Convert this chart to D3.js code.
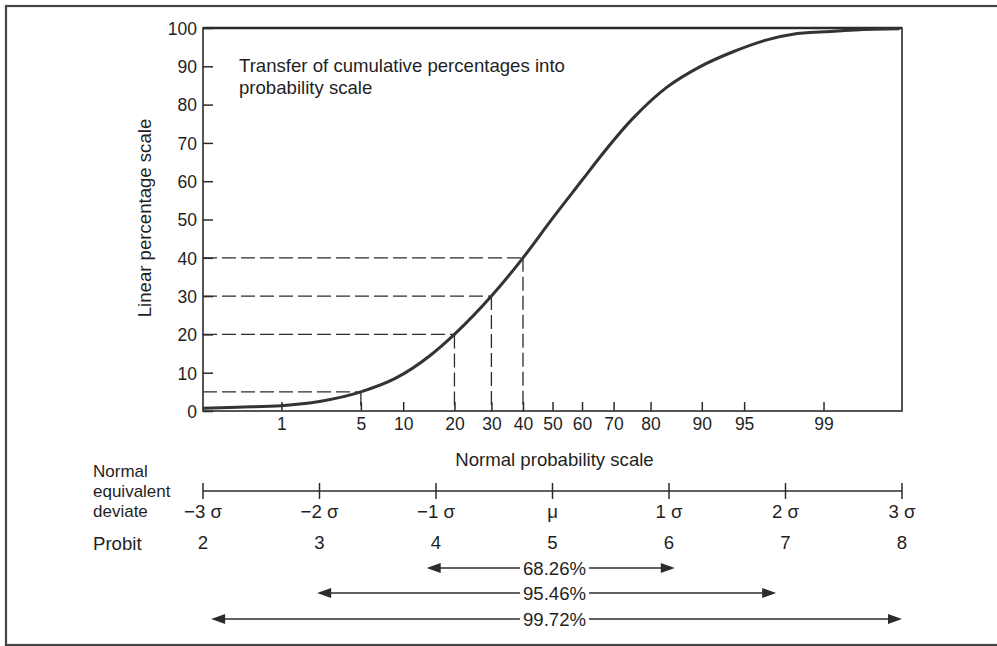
<!DOCTYPE html>
<html><head><meta charset="utf-8">
<script src="https://cdn.jsdelivr.net/npm/d3@7"></script>
<style>
body{margin:0;background:#fff}
text{font-family:"Liberation Sans",Arial,Helvetica,sans-serif;fill:#1f1f1f;font-size:18.6px}
</style>
</head><body>
<svg id="c" width="997" height="646"></svg>
<script>
// ---- data ----
const percentTicks = [0,10,20,30,40,50,60,70,80,90,100];
const probTicks = [1,5,10,20,30,40,50,60,70,80,90,95,99];
const deviateTicks = [-3,-2,-1,0,1,2,3];
const deviateLabels = ["\u22123 \u03c3","\u22122 \u03c3","\u22121 \u03c3","\u03bc","1 \u03c3","2 \u03c3","3 \u03c3"];
const probitLabels = ["2","3","4","5","6","7","8"];
// curve: normal equivalent deviate vs linear percentage
const curveDeviate = [-3.0,-2.7,-2.33,-2.0,-1.645,-1.35,-1.05,-0.842,-0.524,-0.253,0,0.26,0.40,0.69,0.98,1.26,1.55,1.84,2.09,2.33,2.6,2.98];
const curvePercent = [0.7,1.0,1.4,2.5,5.0,8.5,14.5,20,30,40,50.3,60.5,66.0,76.4,84.5,89.8,93.8,96.9,98.5,99.0,99.5,99.8];
const guidePercents = [5,20,30,40];
const rangeLabels = ["68.26%","95.46%","99.72%"];
const rangeFrom = [-1.08,-2.02,-2.93];
const rangeTo = [1.05,1.92,3.0];

// inverse standard normal CDF (Acklam) — the probability-scale transform
function probit(p){
  const a=[-3.969683028665376e+01,2.209460984245205e+02,-2.759285104469687e+02,1.383577518672690e+02,-3.066479806614716e+01,2.506628277459239e+00];
  const b=[-5.447609879822406e+01,1.615858368580409e+02,-1.556989798598866e+02,6.680131188771972e+01,-1.328068155288572e+01];
  const c=[-7.784894002430293e-03,-3.223964580411365e-01,-2.400758277161838e+00,-2.549732539343734e+00,4.374664141464968e+00,2.938163982698783e+00];
  const d=[7.784695709041462e-03,3.224671290700398e-01,2.445134137142996e+00,3.754408661907416e+00];
  const pl=0.02425;
  let q,r;
  if(p<pl){q=Math.sqrt(-2*Math.log(p));return (((((c[0]*q+c[1])*q+c[2])*q+c[3])*q+c[4])*q+c[5])/((((d[0]*q+d[1])*q+d[2])*q+d[3])*q+1);}
  if(p>1-pl){q=Math.sqrt(-2*Math.log(1-p));return -(((((c[0]*q+c[1])*q+c[2])*q+c[3])*q+c[4])*q+c[5])/((((d[0]*q+d[1])*q+d[2])*q+d[3])*q+1);}
  q=p-0.5;r=q*q;
  return (((((a[0]*r+a[1])*r+a[2])*r+a[3])*r+a[4])*r+a[5])*q/(((((b[0]*r+b[1])*r+b[2])*r+b[3])*r+b[4])*r+1);
}

const svg = d3.select("#c");
const ink = "#2b2b2b";
const L=203, R=902, T=28, B=411;
const x = d3.scaleLinear().domain([-3,3]).range([L,R]);
const y = d3.scaleLinear().domain([0,100]).range([B,T]);
const xp = p => x(probit(p/100));

// outer frame
svg.append("rect").attr("x",6).attr("y",6).attr("width",1000).attr("height",639)
  .attr("fill","none").attr("stroke","#444").attr("stroke-width",2.2);

// y axis
const ya = svg.append("g").attr("transform",`translate(${L},0)`)
  .call(d3.axisLeft(y).tickValues(percentTicks).tickSizeInner(-10).tickSizeOuter(0).tickPadding(6));
ya.select(".domain").remove();
ya.selectAll("line").attr("stroke",ink).attr("stroke-width",1.5);
ya.selectAll("text").style("font-size","17.5px").attr("fill","#1f1f1f").attr("dy","0.36em");

// x axis (normal probability scale)
const xa = svg.append("g").attr("transform",`translate(0,${B})`)
  .call(d3.axisBottom(x).tickValues(probTicks.map(p=>probit(p/100))).tickFormat((d,i)=>probTicks[i])
    .tickSizeInner(-9).tickSizeOuter(0).tickPadding(7));
xa.select(".domain").remove();
xa.selectAll("line").attr("stroke",ink).attr("stroke-width",1.5);
xa.selectAll("text").style("font-size","17.5px").attr("fill","#1f1f1f");

// plot box
svg.append("rect").attr("x",L).attr("y",T).attr("width",R-L).attr("height",B-T)
  .attr("fill","none").attr("stroke",ink).attr("stroke-width",1.6);
svg.append("line").attr("x1",L).attr("x2",R).attr("y1",T).attr("y2",T)
  .attr("stroke",ink).attr("stroke-width",2.6);

// guide dashed lines
const g = svg.append("g").attr("stroke",ink).attr("stroke-width",1.3).attr("stroke-dasharray","14,5").attr("fill","none");
guidePercents.forEach(p=>{
  g.append("line").attr("x1",L).attr("x2",xp(p)).attr("y1",y(p)).attr("y2",y(p));
  g.append("line").attr("x1",xp(p)).attr("x2",xp(p)).attr("y1",y(p)).attr("y2",B);
});

// curve
const pts = curveDeviate.map((d,i)=>[d,curvePercent[i]]);
svg.append("path").datum(pts)
  .attr("d",d3.line().x(d=>x(d[0])).y(d=>y(d[1])).curve(d3.curveMonotoneX))
  .attr("fill","none").attr("stroke","#333").attr("stroke-width",3);

// titles
const t = svg.append("text").attr("x",239).attr("y",72);
t.append("tspan").attr("x",239).text("Transfer of cumulative percentages into");
t.append("tspan").attr("x",239).attr("y",94).text("probability scale");

svg.append("text").attr("transform","translate(151,218) rotate(-90)")
  .attr("text-anchor","middle").text("Linear percentage scale");
svg.append("text").attr("x",(L+R)/2+2).attr("y",466).attr("text-anchor","middle").text("Normal probability scale");

// normal equivalent deviate axis
const sy = 491;
svg.append("line").attr("x1",x(-3)).attr("x2",x(3)).attr("y1",sy).attr("y2",sy).attr("stroke",ink).attr("stroke-width",1.5);
svg.selectAll(".st").data(deviateTicks).enter().append("line")
  .attr("x1",d=>x(d)).attr("x2",d=>x(d)).attr("y1",sy-8).attr("y2",sy+8).attr("stroke",ink).attr("stroke-width",1.5);
svg.selectAll(".sl").data(deviateTicks).enter().append("text")
  .attr("x",d=>x(d)).attr("y",518).attr("text-anchor","middle").text((d,i)=>deviateLabels[i]);
svg.selectAll(".pl").data(deviateTicks).enter().append("text")
  .attr("x",d=>x(d)).attr("y",549).attr("text-anchor","middle").text((d,i)=>probitLabels[i]);

const nl = svg.append("text").attr("x",93).style("font-size","17px");
nl.append("tspan").attr("x",93).attr("y",477).text("Normal");
nl.append("tspan").attr("x",93).attr("y",497).text("equivalent");
nl.append("tspan").attr("x",93).attr("y",517).text("deviate");
svg.append("text").attr("x",93).attr("y",550).text("Probit");

// range arrows
const ay = [568,593,619];
rangeLabels.forEach((lab,i)=>{
  const cy = ay[i];
  const txt = svg.append("text").attr("x",x(0)+2).attr("y",cy).attr("dy","0.36em").attr("text-anchor","middle").text(lab);
  const bb = txt.node().getBBox();
  const x1 = x(rangeFrom[i]), x2 = x(rangeTo[i]);
  svg.append("line").attr("x1",x1+10).attr("x2",bb.x-3).attr("y1",cy).attr("y2",cy).attr("stroke",ink).attr("stroke-width",1.5);
  svg.append("line").attr("x1",bb.x+bb.width+3).attr("x2",x2-10).attr("y1",cy).attr("y2",cy).attr("stroke",ink).attr("stroke-width",1.5);
  svg.append("path").attr("d",`M${x1},${cy}L${x1+14},${cy-5}L${x1+14},${cy+5}Z`).attr("fill",ink);
  svg.append("path").attr("d",`M${x2},${cy}L${x2-14},${cy-5}L${x2-14},${cy+5}Z`).attr("fill",ink);
});
</script>
</body></html>
